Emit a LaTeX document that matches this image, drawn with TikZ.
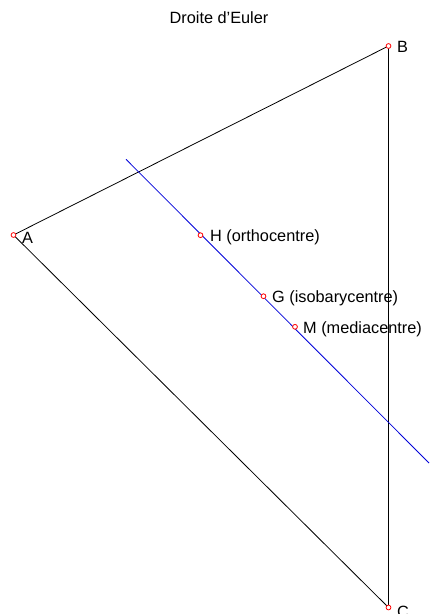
\documentclass[tikz,border=0pt]{standalone}
\usepackage{fontspec}
\setmainfont{Liberation Sans}
\begin{document}
\begin{tikzpicture}[x=1pt,y=-1pt,
  pt/.style={circle,draw=red,fill=white,line width=0.8pt,inner sep=0pt,minimum size=4.8pt},
  lbl/.style={anchor=west,inner sep=0pt,font=\fontsize{16.3}{18}\selectfont},
  seg/.style={line width=0.8pt,black}]
\useasboundingbox (0,0) rectangle (429,614);
\coordinate (A) at (13.5,235);
\coordinate (B) at (388.5,46);
\coordinate (C) at (388.5,607.5);
\coordinate (H) at (200.5,235.2);
\coordinate (G) at (263.5,296.2);
\coordinate (M) at (295,326.8);
\coordinate (L1) at (126,159.3);
\coordinate (L2) at (429,463);
\node[font=\fontsize{16.3}{18}\selectfont] (title) at (219,18) {Droite d'Euler};
\draw[seg] (A) -- (B) -- (C) -- cycle;
\draw[blue!85!black,line width=0.8pt] (L1) -- (L2);
\foreach \p in {A,B,C,H,G,M} \node[pt] (n\p) at (\p) {};
\node[lbl] (lA) at (22,238) {A};
\node[lbl] (lB) at (397,47) {B};
\node[lbl] (lC) at (397,612) {C};
\node[lbl] (lH) at (210,237) {H (orthocentre)};
\node[lbl] (lG) at (272,298) {G (isobarycentre)};
\node[lbl] (lM) at (303,329) {M (mediacentre)};
\end{tikzpicture}
\end{document}
